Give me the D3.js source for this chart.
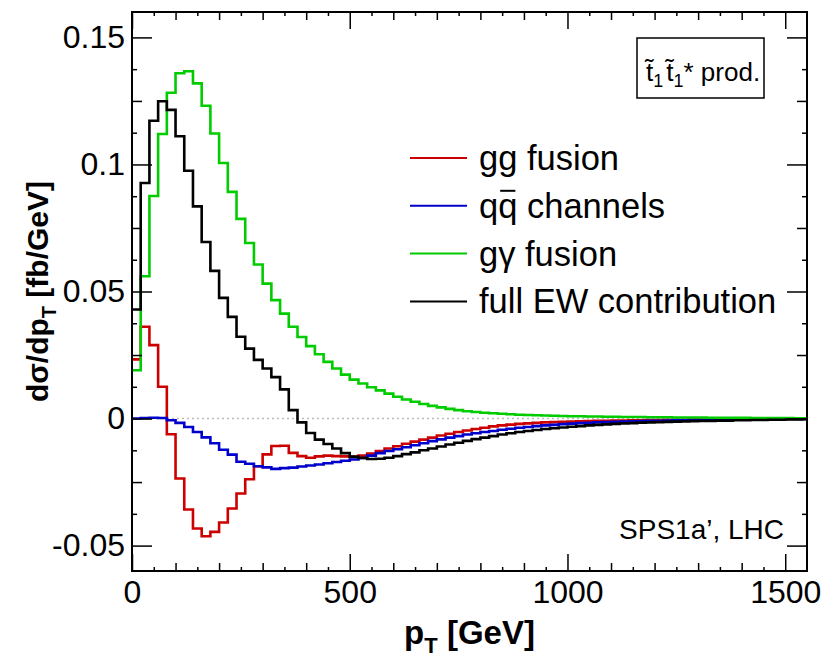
<!DOCTYPE html>
<html lang="en">
<head>
  <meta charset="UTF-8">
  <title>stop pair pT distribution</title>
  <script src="https://d3js.org/d3.v7.min.js"></script>
</head>
<style>
  :root {
    --text-color: #000;
    --bg-color: #fff;
  }
  body {
    margin: 0;
    background-color: var(--bg-color);
  }
  text {
    font-family: "Liberation Sans", Arial, Helvetica, sans-serif;
    fill: var(--text-color);
  }
  .axis text {
    font-family: "Liberation Sans", Arial, Helvetica, sans-serif;
    font-size: 32px;
  }
  .axis line {
    stroke: #000;
    stroke-width: 1.5;
  }
  .axislabel {
    font-weight: 700;
  }
  .legend-label {
    font-size: 34.5px;
  }
  .hist {
    fill: none;
    stroke-width: 2.6;
    stroke-linejoin: miter;
  }
</style>
<body>
  <div id="my_dataviz"></div>

  <script>

    // ## Data (bin lower edges every 20 GeV, 0 ... 1540)
    const binWidth = 20;
    const binEdges = d3.range(0, 1560, binWidth);

    const ggFusion = [
      0.0233, 0.0361, 0.0289, 0.0125, -0.0062, -0.0236, -0.0358, -0.0433, -0.0463, -0.0446,
      -0.0409, -0.0354, -0.0295, -0.0239, -0.0188, -0.0141, -0.0108, -0.0107, -0.0135, -0.0148,
      -0.0154, -0.0149, -0.0146, -0.0148, -0.0149, -0.0151, -0.0146, -0.0138, -0.0128, -0.0118,
      -0.0109, -0.0099, -0.0091, -0.0083, -0.0075, -0.0067, -0.0060, -0.0053, -0.0047, -0.0041,
      -0.0036, -0.0031, -0.0027, -0.0024, -0.0021, -0.0019, -0.0017, -0.0015, -0.0014, -0.0013,
      -0.0012, -0.0011, -0.0010, -0.0009, -0.0009, -0.0008, -0.0008, -0.0007, -0.0007, -0.0006,
      -0.0006, -0.0005, -0.0005, -0.0005, -0.0004, -0.0004, -0.0004, -0.0003, -0.0003, -0.0003,
      -0.0003, -0.0002, -0.0002, -0.0002, -0.0002, -0.0001, -0.0001, -0.0001
    ];

    const qqChannels = [
      0.0000, 0.0002, 0.0003, 0.0002, -0.0007, -0.0017, -0.0033, -0.0053, -0.0074, -0.0097,
      -0.0123, -0.0142, -0.0170, -0.0178, -0.0188, -0.0192, -0.0198, -0.0195, -0.0193, -0.0189,
      -0.0185, -0.0181, -0.0176, -0.0171, -0.0166, -0.0161, -0.0155, -0.0146, -0.0136, -0.0128,
      -0.0121, -0.0113, -0.0105, -0.0097, -0.0089, -0.0082, -0.0075, -0.0069, -0.0063, -0.0058,
      -0.0053, -0.0049, -0.0044, -0.0040, -0.0036, -0.0033, -0.0030, -0.0027, -0.0025, -0.0022,
      -0.0020, -0.0018, -0.0017, -0.0015, -0.0014, -0.0013, -0.0012, -0.0011, -0.0010, -0.0009,
      -0.0009, -0.0008, -0.0007, -0.0007, -0.0006, -0.0006, -0.0005, -0.0005, -0.0005, -0.0004,
      -0.0004, -0.0004, -0.0003, -0.0003, -0.0003, -0.0002, -0.0002, -0.0002
    ];

    const gGammaFusion = [
      0.0190, 0.0560, 0.0876, 0.1120, 0.1282, 0.1359, 0.1367, 0.1319, 0.1231, 0.1122,
      0.1006, 0.0892, 0.0786, 0.0691, 0.0606, 0.0531, 0.0466, 0.0413, 0.0361, 0.0321,
      0.0285, 0.0253, 0.0223, 0.0197, 0.0173, 0.0153, 0.0138, 0.0123, 0.0111, 0.0098,
      0.0086, 0.0075, 0.0066, 0.0057, 0.0050, 0.0044, 0.0038, 0.0033, 0.0029, 0.0026,
      0.0023, 0.0021, 0.0019, 0.0017, 0.0015, 0.0014, 0.0013, 0.0012, 0.0011, 0.0010,
      0.0009, 0.0009, 0.0008, 0.0008, 0.0007, 0.0007, 0.0006, 0.0006, 0.0006, 0.0005,
      0.0005, 0.0005, 0.0004, 0.0004, 0.0004, 0.0004, 0.0003, 0.0003, 0.0003, 0.0003,
      0.0003, 0.0002, 0.0002, 0.0002, 0.0002, 0.0002, 0.0001, 0.0001
    ];

    const fullEW = [
      0.0429, 0.0927, 0.1172, 0.1249, 0.1215, 0.1111, 0.0975, 0.0835, 0.0695, 0.0581,
      0.0475, 0.0400, 0.0322, 0.0275, 0.0231, 0.0197, 0.0163, 0.0115, 0.0033, -0.0015,
      -0.0057, -0.0083, -0.0100, -0.0118, -0.0136, -0.0150, -0.0155, -0.0159, -0.0158, -0.0154,
      -0.0148, -0.0140, -0.0133, -0.0125, -0.0118, -0.0110, -0.0102, -0.0095, -0.0088, -0.0081,
      -0.0075, -0.0069, -0.0063, -0.0058, -0.0053, -0.0049, -0.0045, -0.0041, -0.0038, -0.0035,
      -0.0032, -0.0030, -0.0027, -0.0025, -0.0023, -0.0021, -0.0019, -0.0018, -0.0016, -0.0015,
      -0.0014, -0.0013, -0.0012, -0.0011, -0.0010, -0.0009, -0.0009, -0.0008, -0.0008, -0.0007,
      -0.0007, -0.0006, -0.0006, -0.0005, -0.0005, -0.0004, -0.0004, -0.0003
    ];

    const seriesNames = ["gg fusion", "qq channels", "g\u03b3 fusion", "full EW contribution"];
    const seriesColors = ["#cc0000", "#0000cc", "#00cc00", "#000000"];

    const xTickValues = [0, 500, 1000, 1500];
    const yTickValues = [-0.05, 0, 0.05, 0.1, 0.15];
    const yTickLabels = ["-0.05", "0", "0.05", "0.1", "0.15"];

    function drawChart() {

      // ## Dimensions
      let dimensions = {
        width: 826,
        height: 660,
        margin: {top: 12, right: 19, bottom: 89, left: 132}
      }
      dimensions.boundedWidth = dimensions.width
        - dimensions.margin.left
        - dimensions.margin.right
      dimensions.boundedHeight = dimensions.height
        - dimensions.margin.top
        - dimensions.margin.bottom

      const svg = d3.select("#my_dataviz")
        .append("svg")
          .attr("width", dimensions.width)
          .attr("height", dimensions.height)

      const bounds = svg.append("g")
        .attr("transform", `translate(${dimensions.margin.left},${dimensions.margin.top})`);

      // ## Scales
      const xScale = d3.scaleLinear()
        .domain([0, 1550])
        .range([0, dimensions.boundedWidth]);

      const yScale = d3.scaleLinear()
        .domain([-0.06, 0.16])
        .range([dimensions.boundedHeight, 0]);

      // ## Zero line
      bounds.append("line")
        .attr("x1", 0)
        .attr("x2", dimensions.boundedWidth)
        .attr("y1", yScale(0))
        .attr("y2", yScale(0))
        .attr("stroke", "#bbbbbb")
        .attr("stroke-width", 1.5)
        .attr("stroke-dasharray", "2,3");

      // ## Histograms
      bounds.append("clipPath")
        .attr("id", "plot-clip")
        .append("rect")
          .attr("width", dimensions.boundedWidth)
          .attr("height", dimensions.boundedHeight);

      const allSeries = [ggFusion, qqChannels, gGammaFusion, fullEW];

      const stepLine = d3.line()
        .x(d => xScale(d[0]))
        .y(d => yScale(d[1]))
        .curve(d3.curveStepAfter);

      allSeries.forEach((values, i) => {
        const pts = binEdges.map((e, j) => [e, values[j]]);
        pts.push([binEdges[binEdges.length - 1] + binWidth, values[values.length - 1]]);
        bounds.append("path")
          .attr("class", "hist")
          .attr("clip-path", "url(#plot-clip)")
          .attr("stroke", seriesColors[i])
          .attr("d", stepLine(pts));
      });

      // ## Axes (ticks point inwards, mirrored on top / right)
      const xMinor = d3.range(0, 31).map(i => i * 50);
      const tickLenX = v => v % 500 === 0 ? 17 : (v % 100 === 0 ? 8 : 4);
      const tickLenY = i => i % 4 === 0 ? 20 : (i % 2 === 0 ? 10 : 5);

      [4, 8, 17].forEach(len => {
        const vals = xMinor.filter(v => tickLenX(v) === len);
        bounds.append("g")
          .attr("class", "axis")
          .attr("transform", `translate(0,${dimensions.boundedHeight})`)
          .call(d3.axisBottom(xScale).tickValues(vals).tickSize(-len).tickFormat(""))
          .call(g => g.select(".domain").remove());
        bounds.append("g")
          .attr("class", "axis")
          .call(d3.axisTop(xScale).tickValues(vals).tickSize(-len).tickFormat(""))
          .call(g => g.select(".domain").remove());
      });

      [5, 10, 20].forEach(len => {
        const vals = d3.range(-4, 13).filter(i => tickLenY(i) === len).map(i => i * 0.0125);
        bounds.append("g")
          .attr("class", "axis")
          .call(d3.axisLeft(yScale).tickValues(vals).tickSize(-len).tickFormat(""))
          .call(g => g.select(".domain").remove());
        bounds.append("g")
          .attr("class", "axis")
          .attr("transform", `translate(${dimensions.boundedWidth},0)`)
          .call(d3.axisRight(yScale).tickValues(vals).tickSize(-len).tickFormat(""))
          .call(g => g.select(".domain").remove());
      });

      // tick labels
      bounds.append("g")
        .attr("class", "axis")
        .attr("transform", `translate(0,${dimensions.boundedHeight})`)
        .call(d3.axisBottom(xScale).tickValues(xTickValues).tickSize(0).tickPadding(9).tickFormat(d3.format("d")))
        .call(g => g.select(".domain").remove())
        .call(g => g.selectAll("text").attr("font-size", null).attr("font-family", null));

      bounds.append("g")
        .attr("class", "axis")
        .call(d3.axisLeft(yScale).tickValues(yTickValues).tickSize(0).tickPadding(7)
          .tickFormat((d, i) => yTickLabels[i]))
        .call(g => g.select(".domain").remove())
        .call(g => g.selectAll("text").attr("font-size", null).attr("font-family", null));

      // frame
      bounds.append("rect")
        .attr("width", dimensions.boundedWidth)
        .attr("height", dimensions.boundedHeight)
        .attr("fill", "none")
        .attr("stroke", "#000")
        .attr("stroke-width", 2);

      // ## Axis titles
      const xTitle = svg.append("text")
        .attr("class", "axislabel")
        .attr("font-size", 33)
        .attr("x", dimensions.margin.left + dimensions.boundedWidth / 2)
        .attr("y", 644)
        .attr("text-anchor", "middle");
      xTitle.append("tspan").text("p");
      xTitle.append("tspan").attr("font-size", 22).attr("dy", 9).text("T");
      xTitle.append("tspan").attr("dy", -9).text(" [GeV]");

      const yTitle = svg.append("text")
        .attr("class", "axislabel")
        .attr("font-size", 30)
        .attr("transform", `translate(48,${dimensions.margin.top + dimensions.boundedHeight / 2}) rotate(-90)`)
        .attr("text-anchor", "middle");
      yTitle.append("tspan").text("d\u03c3/dp");
      yTitle.append("tspan").attr("font-size", 20).attr("dy", 8).text("T");
      yTitle.append("tspan").attr("dy", -8).text(" [fb/GeV]");

      // ## Legend
      const legend = svg.append("g")
        .attr("transform", "translate(410,158)");
      seriesNames.forEach((name, i) => {
        const row = legend.append("g").attr("transform", `translate(0,${i * 47.8})`);
        row.append("line")
          .attr("x1", 0).attr("x2", 57)
          .attr("stroke", seriesColors[i])
          .attr("stroke-width", 2);
        const t = row.append("text")
          .attr("class", "legend-label")
          .attr("x", 69)
          .attr("dy", "0.35em")
          .text(name);
        if (i === 1) {
          // bar over the second q (anti-quark)
          const n = t.node();
          const p = n.getStartPositionOfChar(1);
          const w = n.getExtentOfChar(1).width;
          row.append("line")
            .attr("x1", p.x + 2).attr("x2", p.x + w - 2)
            .attr("y1", -15).attr("y2", -15)
            .attr("stroke", "#000")
            .attr("stroke-width", 2);
        }
      });

      // ## Process label box
      const boxG = svg.append("g");
      boxG.append("rect")
        .attr("x", 637).attr("y", 38)
        .attr("width", 127).attr("height", 60)
        .attr("fill", "#fff")
        .attr("stroke", "#000")
        .attr("stroke-width", 1.5);
      const proc = boxG.append("text")
        .attr("x", 646).attr("y", 81)
        .attr("font-size", 26);
      proc.append("tspan").text("t\u0303");
      proc.append("tspan").attr("font-size", 18).attr("dy", 6).text("1");
      proc.append("tspan").attr("dy", -6).attr("dx", 3).text("t\u0303");
      proc.append("tspan").attr("font-size", 18).attr("dy", 6).text("1");
      proc.append("tspan").attr("dy", -6).text("* prod.");

      // ## Annotation
      svg.append("text")
        .attr("x", 784)
        .attr("y", 539)
        .attr("font-size", 28)
        .attr("text-anchor", "end")
        .text("SPS1a\u2019, LHC");
    }

    drawChart()
  </script>
</body>
</html>
